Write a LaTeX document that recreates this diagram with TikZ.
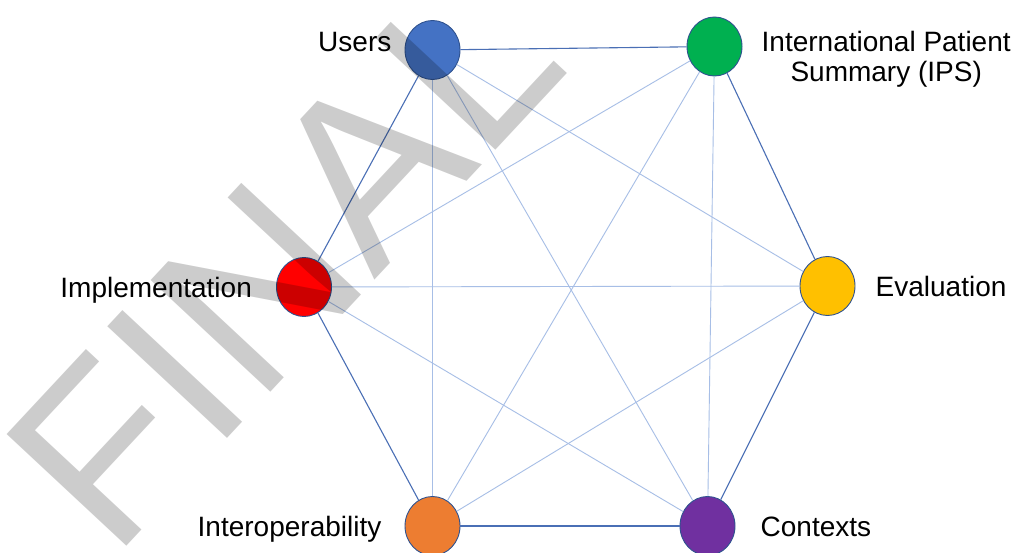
\documentclass[tikz,border=0pt]{standalone}
\usepackage{fontspec}
\setmainfont{Liberation Sans}
\usepackage{tikz}
\usetikzlibrary{positioning,shapes.geometric}
\definecolor{rimblue}{HTML}{4A6FB5}
\definecolor{spokeblue}{HTML}{A7BEE6}
\definecolor{edgeblue}{HTML}{2F528F}

\begin{document}
\begin{tikzpicture}[x=1pt, y=-1pt,
dot/.style = {draw=edgeblue, line width=0.9pt, ellipse, inner sep=0pt, minimum width=55pt, minimum height=59pt},
rim/.style = {draw=rimblue, line width=1.1pt},
spoke/.style = {draw=spokeblue, line width=0.9pt},
tag/.style = {inner sep=0pt, text height=20pt, text depth=0pt},
tagtwo/.style = {inner sep=0pt, align=center}]
\tikzstyle{every node}=[font=\fontsize{28}{30}\selectfont]
\fill[white] (0,0) rectangle (1016,553);
\useasboundingbox (0,0) rectangle (1016,553);
% the six circles
\node[dot, fill={rgb,255:red,68;green,114;blue,196}] (users) at (432.5,50) {};
\node[dot, fill={rgb,255:red,0;green,176;blue,80}] (ips) at (714.5,46.5) {};
\node[dot, fill={rgb,255:red,255;green,0;blue,0}] (impl) at (304,287) {};
\node[dot, fill={rgb,255:red,255;green,192;blue,0}] (eval) at (827.5,286) {};
\node[dot, fill={rgb,255:red,237;green,125;blue,49}] (interop) at (432.5,526) {};
\node[dot, fill={rgb,255:red,112;green,48;blue,160}] (ctx) at (707.5,526) {};
% labels
\node[tag] (usersname) [left=13pt of users, yshift=8pt] {Users};
\node[tagtwo] (ipsname) [right=19pt of ips, yshift=-13pt] {International Patient\\Summary (IPS)};
\node[tag] (implname) [left=24pt of impl] {Implementation};
\node[tag] (evalname) [right=20pt of eval] {Evaluation};
\node[tag] (interopname) [left=23pt of interop] {Interoperability};
\node[tag] (ctxname) [right=25pt of ctx] {Contexts};
% outer ring
\draw[rim] (users) -- (ips);
\draw[rim] (ips) -- (eval);
\draw[rim] (eval) -- (ctx);
\draw[rim] (ctx) -- (interop);
\draw[rim] (interop) -- (impl);
\draw[rim] (impl) -- (users);
% inner links
\draw[spoke] (users) -- (eval);
\draw[spoke] (users) -- (ctx);
\draw[spoke] (users) -- (interop);
\draw[spoke] (ips) -- (impl);
\draw[spoke] (ips) -- (interop);
\draw[spoke] (ips) -- (ctx);
\draw[spoke] (impl) -- (eval);
\draw[spoke] (impl) -- (ctx);
\draw[spoke] (eval) -- (interop);
% watermark
\node[rotate=47, anchor=base west, inner sep=0pt, font=\fontsize{238}{238}\selectfont, text=black, text opacity=0.2] (stamp) at (113,561) {FINAL};
\end{tikzpicture}
\end{document}
